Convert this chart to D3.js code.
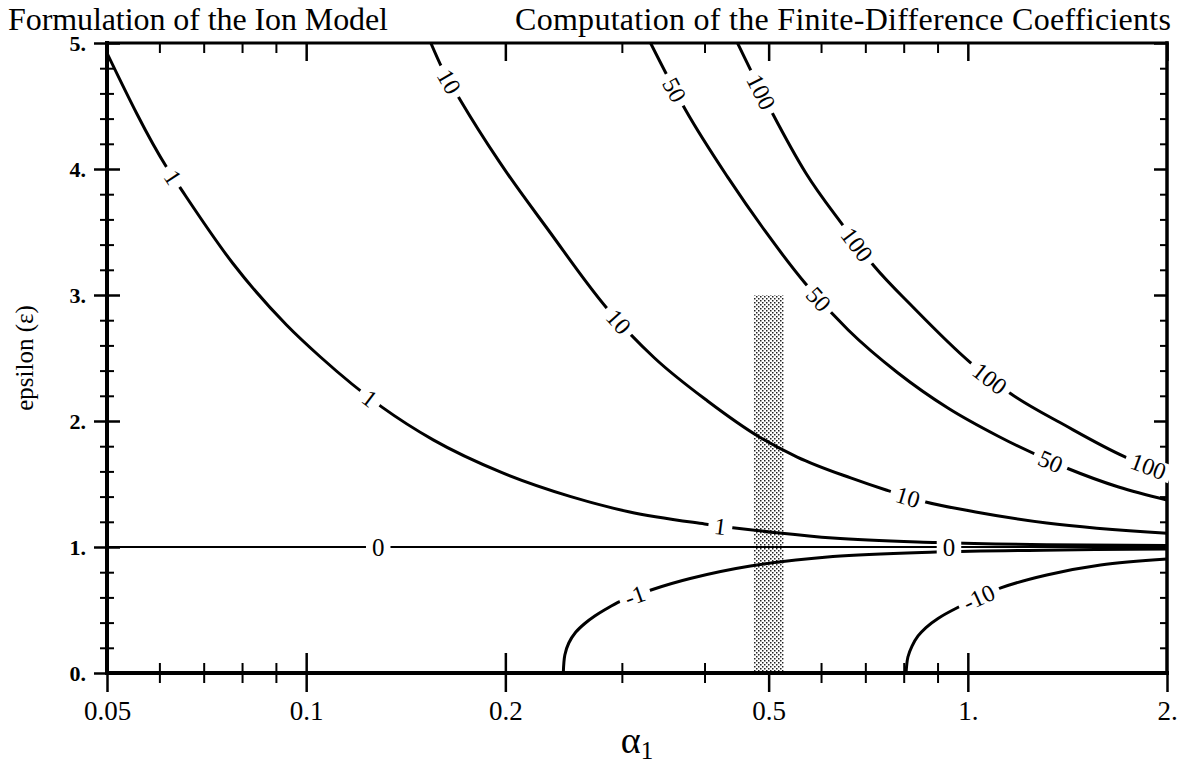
<!DOCTYPE html>
<html>
<head>
<meta charset="utf-8">
<script src="https://cdn.jsdelivr.net/npm/d3@7"></script>
<style>
  body { margin: 0; background: #fff; }
  svg { display: block; font-family: "Liberation Serif", "Times New Roman", serif; }
</style>
</head>
<body>
<svg id="chart" width="1181" height="765"></svg>
<script>
// ---- axis ticks ----
const xMajorTicks = [0.05, 0.1, 0.2, 0.5, 1, 2];
const xMajorLabels = ["0.05", "0.1", "0.2", "0.5", "1.", "2."];
const xMinorTicks = [0.06, 0.07, 0.08, 0.09, 0.3, 0.4, 0.6, 0.7, 0.8, 0.9];
const yMajorTicks = [0, 1, 2, 3, 4, 5];
const yMajorLabels = ["0.", "1.", "2.", "3.", "4.", "5."];
const yMinorTicks = [0.2, 0.4, 0.6, 0.8, 1.2, 1.4, 1.6, 1.8, 2.2, 2.4, 2.6, 2.8,
                     3.2, 3.4, 3.6, 3.8, 4.2, 4.4, 4.6, 4.8];

// ---- contour lines: [alpha1, epsilon] ----
const contour1 = [[0.05, 4.92], [0.0616, 4.01], [0.0649, 3.83], [0.0774, 3.254], [0.0934, 2.762],
  [0.1051, 2.508], [0.1302, 2.11], [0.1556, 1.85], [0.1977, 1.59], [0.2512, 1.40], [0.3072, 1.28],
  [0.40, 1.183], [0.519, 1.111], [0.625, 1.071], [0.896, 1.036], [1.316, 1.018], [2.0, 1.012]];
const contour10 = [[0.1543, 5.0], [0.1605, 4.80], [0.1713, 4.54], [0.1957, 4.06], [0.2327, 3.51],
  [0.2846, 2.897], [0.3361, 2.50], [0.4042, 2.159], [0.4842, 1.873], [0.5523, 1.714],
  [0.6652, 1.548], [0.7524, 1.452], [0.8636, 1.357], [1.0275, 1.278], [1.316, 1.19], [2.0, 1.109]];
const contour50 = [[0.3315, 5.0], [0.3745, 4.468], [0.4344, 3.929], [0.4938, 3.508], [0.569, 3.087],
  [0.6595, 2.722], [0.7843, 2.381], [0.933, 2.103], [1.11, 1.881], [1.41, 1.627], [1.69, 1.476],
  [2.0, 1.373]];
const contour100 = [[0.4486, 5.0], [0.5064, 4.444], [0.569, 3.968], [0.6468, 3.556], [0.7215, 3.23],
  [0.826, 2.905], [1.007, 2.468], [1.163, 2.214], [1.40, 1.968], [1.731, 1.714], [2.0, 1.587]];
const contour0 = [[0.05, 1.0], [0.5, 1.0], [2.0, 1.0]];
const contourM1 = [[0.2447, 0.0], [0.246, 0.143], [0.2494, 0.238], [0.2556, 0.325], [0.2637, 0.393],
  [0.273, 0.452], [0.2831, 0.504], [0.2988, 0.571], [0.3338, 0.663], [0.3805, 0.75], [0.4693, 0.849],
  [0.6253, 0.925], [0.8948, 0.96], [1.3, 0.975], [2.0, 0.985]];
const contourM10 = [[0.8066, 0.0], [0.8118, 0.127], [0.8235, 0.214], [0.841, 0.294], [0.8645, 0.361],
  [0.9015, 0.433], [0.959, 0.512], [1.1216, 0.675], [1.316, 0.778], [1.587, 0.857], [2.0, 0.905]];

// alpha1 positions of the inline contour labels
const labelAt1 = [0.0629, 0.1248, 0.4227];
const labelAt10 = [0.1645, 0.2967, 0.8118];
const labelAt50 = [0.3604, 0.5952, 1.334];
const labelAt100 = [0.4875, 0.6802, 1.08, 1.875];
const labelAt0 = [0.1285, 0.9365];
const labelAtM1 = [0.3137];
const labelAtM10 = [1.039];

// shaded band
const bandAlpha = [0.475, 0.527];
const bandEps = [0, 3];

const contours = [
  { text: "1", pts: contour1, labels: labelAt1, curve: d3.curveMonotoneX },
  { text: "10", pts: contour10, labels: labelAt10, curve: d3.curveMonotoneX },
  { text: "50", pts: contour50, labels: labelAt50, curve: d3.curveMonotoneX },
  { text: "100", pts: contour100, labels: labelAt100, curve: d3.curveMonotoneX },
  { text: "0", pts: contour0, labels: labelAt0, curve: d3.curveLinear },
  { text: "-1", pts: contourM1, labels: labelAtM1, curve: d3.curveCatmullRom.alpha(0.5) },
  { text: "-10", pts: contourM10, labels: labelAtM10, curve: d3.curveCatmullRom.alpha(0.5) }
];

// ---- layout ----
const m = { left: 107, right: 1167, top: 43, bottom: 673 };
const x = d3.scaleLog().domain([0.05, 2]).range([m.left, m.right]);
const y = d3.scaleLinear().domain([0, 5]).range([m.bottom, m.top]);
const svg = d3.select("#chart");

const defs = svg.append("defs");
defs.append("clipPath").attr("id", "plot")
  .append("rect").attr("x", m.left).attr("y", m.top)
  .attr("width", m.right - m.left).attr("height", m.bottom - m.top);
const pat = defs.append("pattern").attr("id", "stipple")
  .attr("width", 4).attr("height", 4).attr("patternUnits", "userSpaceOnUse");
pat.append("rect").attr("width", 4).attr("height", 4).attr("fill", "#fff");
pat.append("rect").attr("x", 0).attr("y", 0).attr("width", 1.5).attr("height", 1.5).attr("fill", "#222");
pat.append("rect").attr("x", 2).attr("y", 2).attr("width", 1.5).attr("height", 1.5).attr("fill", "#222");

// titles
svg.append("text").attr("x", 8).attr("y", 30).attr("font-size", 32)
  .attr("textLength", 380).attr("lengthAdjust", "spacing")
  .text("Formulation of the Ion Model");
svg.append("text").attr("x", 515).attr("y", 30).attr("font-size", 32)
  .attr("textLength", 656).attr("lengthAdjust", "spacing")
  .text("Computation of the Finite-Difference Coefficients");

// ---- ticks ----
function styleAxis(g, width) {
  g.attr("font-family", null).attr("font-size", null);
  g.select(".domain").remove();
  g.selectAll(".tick line").attr("stroke", "#000").attr("stroke-width", width);
}
const axes = svg.append("g");
function addAxis(axis, tx, ty, width) {
  const g = axes.append("g").attr("transform", `translate(${tx},${ty})`).call(axis);
  styleAxis(g, width);
  return g;
}
// bottom: ticks crossing the line
const gBottom = addAxis(d3.axisBottom(x).tickValues(xMajorTicks).tickSize(19).tickPadding(9)
  .tickFormat((d, i) => xMajorLabels[i]), 0, m.bottom, 2.5);
gBottom.selectAll(".tick text").attr("font-size", 27).attr("fill", "#000");
addAxis(d3.axisTop(x).tickValues(xMajorTicks.slice(1, -1)).tickSize(20).tickFormat(""), 0, m.bottom, 2.5);
addAxis(d3.axisBottom(x).tickValues(xMinorTicks).tickSize(10).tickFormat(""), 0, m.bottom, 2);
addAxis(d3.axisTop(x).tickValues(xMinorTicks).tickSize(10).tickFormat(""), 0, m.bottom, 2);
// top: inward ticks
addAxis(d3.axisBottom(x).tickValues(xMajorTicks).tickSize(18).tickFormat(""), 0, m.top, 2.5);
addAxis(d3.axisBottom(x).tickValues(xMinorTicks).tickSize(10).tickFormat(""), 0, m.top, 2);
// left: ticks crossing the line
const gLeft = addAxis(d3.axisLeft(y).tickValues(yMajorTicks).tickSize(13).tickPadding(8)
  .tickFormat((d, i) => yMajorLabels[i]), m.left, 0, 2.5);
gLeft.selectAll(".tick text").attr("font-size", 22).attr("font-weight", "bold").attr("fill", "#000");
addAxis(d3.axisRight(y).tickValues(yMajorTicks).tickSize(13).tickFormat(""), m.left, 0, 2.5);
addAxis(d3.axisLeft(y).tickValues(yMinorTicks).tickSize(7).tickFormat(""), m.left, 0, 2);
addAxis(d3.axisRight(y).tickValues(yMinorTicks).tickSize(7).tickFormat(""), m.left, 0, 2);
// right: inward ticks
addAxis(d3.axisLeft(y).tickValues(yMajorTicks).tickSize(13).tickFormat(""), m.right, 0, 2.5);
addAxis(d3.axisLeft(y).tickValues(yMinorTicks).tickSize(7).tickFormat(""), m.right, 0, 2);

// shaded band
svg.append("rect")
  .attr("x", x(bandAlpha[0])).attr("width", x(bandAlpha[1]) - x(bandAlpha[0]))
  .attr("y", y(bandEps[1])).attr("height", y(bandEps[0]) - y(bandEps[1]))
  .attr("fill", "url(#stipple)");

// frame
const frame = svg.append("g").attr("stroke", "#000").attr("stroke-linecap", "square");
frame.append("line").attr("x1", x(0.05)).attr("x2", x(2)).attr("y1", y(0)).attr("y2", y(0)).attr("stroke-width", 4);
frame.append("line").attr("x1", x(0.05)).attr("x2", x(2)).attr("y1", y(5)).attr("y2", y(5)).attr("stroke-width", 3);
frame.append("line").attr("x1", x(0.05)).attr("x2", x(0.05)).attr("y1", y(5)).attr("y2", y(0)).attr("stroke-width", 4);
frame.append("line").attr("x1", x(2)).attr("x2", x(2)).attr("y1", y(5)).attr("y2", y(0)).attr("stroke-width", 3.5);

// axis titles
svg.append("text").attr("transform", "translate(33,358) rotate(-90)")
  .attr("text-anchor", "middle").attr("font-size", 25).text("epsilon (\u03b5)");
const xt = svg.append("text").attr("x", 637).attr("y", 753).attr("text-anchor", "middle").attr("font-size", 38);
xt.append("tspan").text("\u03b1");
xt.append("tspan").attr("font-size", 25).attr("dy", 6).text("1");

// ---- contours ----
const gC = svg.append("g").attr("clip-path", "url(#plot)");
const gLab = svg.append("g");

function pointAtX(node, tx) {
  const total = node.getTotalLength();
  let lo = 0, hi = total;
  for (let k = 0; k < 40; k++) {
    const mid = (lo + hi) / 2;
    if (node.getPointAtLength(mid).x < tx) lo = mid; else hi = mid;
  }
  const len = (lo + hi) / 2;
  return { len, total, p: node.getPointAtLength(len) };
}

contours.forEach(c => {
  const lineGen = d3.line().x(d => x(d[0])).y(d => y(d[1])).curve(c.curve);
  const path = gC.append("path").datum(c.pts).attr("d", lineGen)
    .attr("fill", "none").attr("stroke", "#000")
    .attr("stroke-width", c.text === "0" ? 2.2 : 3);
  const node = path.node();
  c.labels.forEach(a => {
    const r = pointAtX(node, x(a));
    const p1 = node.getPointAtLength(Math.max(0, r.len - 6));
    const p2 = node.getPointAtLength(Math.min(r.total, r.len + 6));
    const ang = Math.atan2(p2.y - p1.y, p2.x - p1.x) * 180 / Math.PI;
    const g = gLab.append("g").attr("transform", `translate(${r.p.x},${r.p.y}) rotate(${ang})`);
    const t = g.append("text").attr("text-anchor", "middle").attr("dy", "0.35em")
      .attr("font-size", c.text === "0" ? 25 : 24).text(c.text);
    const w = t.node().getComputedTextLength();
    const h = c.text === "0" ? 26 : 18;
    g.insert("rect", "text").attr("x", -w / 2 - 6).attr("y", -h / 2)
      .attr("width", w + 12).attr("height", h).attr("fill", "#fff");
  });
});
</script>
</body>
</html>
